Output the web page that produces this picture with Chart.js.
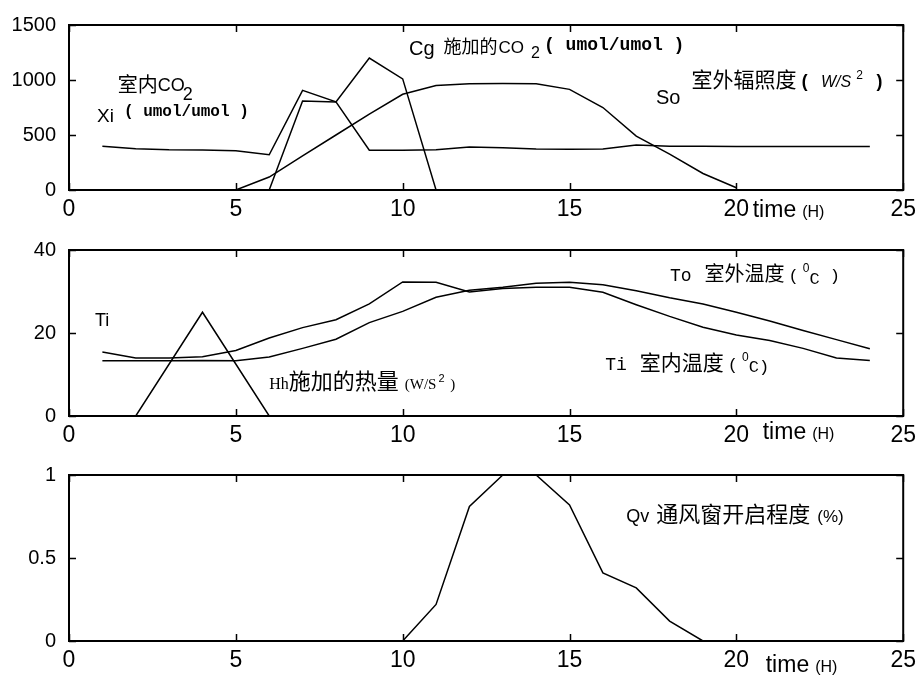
<!DOCTYPE html>
<html>
<head>
<meta charset="utf-8">
<script src="https://cdn.jsdelivr.net/npm/chart.js@4.4.0/dist/chart.umd.min.js"></script>
<style>
  html, body { margin: 0; padding: 0; background: #fff; }
  #wrap { position: relative; width: 922px; height: 683px; }
  .panel { position: absolute; left: 0; width: 922px; }
  canvas { display: block; }
</style>
</head>
<body>
<div id="wrap">
  <div class="panel" style="top:0;height:225px"><canvas id="c1" width="922" height="225"></canvas></div>
  <div class="panel" style="top:225px;height:225px"><canvas id="c2" width="922" height="225"></canvas></div>
  <div class="panel" style="top:450px;height:233px"><canvas id="c3" width="922" height="233"></canvas></div>
</div>
<script>
/* ---------- data (time in hours) ---------- */
const hours = [1, 2, 3, 4, 5, 6, 7, 8, 9, 10, 11, 12, 13, 14, 15, 16, 17, 18, 19, 20, 21, 22, 23, 24];

// top panel: CO2 and radiation
const xiIndoorCO2 = [398, 375, 366, 364, 356, 320, 906, 802, 362, 362, 365, 390, 385, 372, 370, 372, 410, 398, 398, 396, 396, 395, 395, 395];
const cgHours = [6, 7, 8, 9, 10, 11];
const cgAppliedCO2 = [0, 810, 800, 1200, 1010, 0];
const soHours = [5, 6, 7, 8, 9, 10, 11, 12, 13, 14, 15, 16, 17, 18, 19, 20];
const soRadiation = [0, 118, 310, 500, 690, 870, 950, 965, 968, 965, 915, 750, 490, 327, 150, 20];

// middle panel: temperatures and heating
const tiIndoorTemp = [15.4, 14.0, 14.0, 14.3, 15.8, 18.8, 21.3, 23.2, 27.0, 32.3, 32.2, 29.9, 30.7, 31.0, 31.0, 29.8, 26.8, 24.0, 21.4, 19.5, 18.2, 16.3, 14.0, 13.4];
const toOutdoorTemp = [13.3, 13.3, 13.3, 13.4, 13.3, 14.2, 16.3, 18.5, 22.5, 25.2, 28.6, 30.3, 31.0, 32.0, 32.2, 31.6, 30.2, 28.5, 27.0, 25.0, 22.9, 20.6, 18.4, 16.2];
const hhHours = [2, 4, 6];
const hhHeat = [0, 25, 0];

// bottom panel: vent opening
const qvHours = [10, 11, 12, 13, 14, 15, 16, 17, 18, 19];
const qvVent = [0, 0.22, 0.81, 1.0, 1.0, 0.82, 0.41, 0.32, 0.12, 0];

const xTicks = [0, 5, 10, 15, 20, 25];

/* ---------- fonts ---------- */
const SANS = "'Liberation Sans', Arial, sans-serif";
const CJK = "'Noto Sans CJK SC', sans-serif";
const MONO = "'Liberation Mono', monospace";
const SERIF = "'Liberation Serif', serif";

/* ---------- text notes, anchored in data coords (left / baseline) ---------- */
const notes = {
    c1: [
        { x: 10.19, y: 1230, parts: [
            { t: 'Cg', font: `20px ${SANS}` },
            { t: '施加的', font: `18px ${CJK}`, dx: 9, dy: -2 },
            { t: 'CO', font: `17px ${SANS}`, dx: 1, dy: -2 },
            { t: '2', font: `16px ${SANS}`, dx: 7, dy: 3 },
            { t: '( umol/umol )', font: `bold 18px ${MONO}`, dx: 4, dy: -5 }
        ] },
        { x: 1.46, y: 891, parts: [
            { t: '室内', font: `20px ${CJK}` },
            { t: 'CO', font: `18px ${SANS}`, dy: -1 },
            { t: '2', font: `18px ${SANS}`, dx: -2, dy: 8 }
        ] },
        { x: 0.84, y: 615, parts: [
            { t: 'Xi', font: `19px ${SANS}` },
            { t: '( umol/umol )', font: `bold 16px ${MONO}`, dx: 10, dy: -6 }
        ] },
        { x: 17.59, y: 784, parts: [
            { t: 'So', font: `20px ${SANS}` },
            { t: '室外辐照度', font: `21px ${CJK}`, dx: 11, dy: -17 },
            { t: '( ', font: `bold 18px ${MONO}`, dx: 3, dy: -17 },
            { t: 'W/S', font: `italic 16px ${SANS}`, dy: -17 },
            { t: '2', font: `12px ${SANS}`, dx: 5, dy: -25 },
            { t: ' )', font: `bold 18px ${MONO}`, dy: -17 }
        ] },
        { x: 20.49, y: -241, parts: [
            { t: 'time', font: `23px ${SANS}` },
            { t: '(H)', font: `16px ${SANS}`, dx: 6 }
        ] }
    ],
    c2: [
        { x: 0.78, y: 21.75, parts: [{ t: 'Ti', font: `18px ${SANS}` }] },
        { x: 6.0, y: 6.55, parts: [
            { t: 'Hh', font: `16px ${SERIF}` },
            { t: '施加的热量', font: `22px ${CJK}` },
            { t: '(W/S', font: `15px ${SERIF}`, dx: 6 },
            { t: '2', font: `11px ${SANS}`, dx: 2, dy: -7 },
            { t: ' )', font: `15px ${SERIF}`, dx: 2 }
        ] },
        { x: 18.01, y: 32.5, parts: [
            { t: 'To', font: `18px ${MONO}` },
            { t: '室外温度', font: `20px ${CJK}`, dx: 13 },
            { t: '(', font: `17px ${MONO}`, dx: 4 },
            { t: '0', font: `12px ${SANS}`, dx: 4, dy: -9 },
            { t: 'C', font: `17px ${MONO}`, dy: 3 },
            { t: ' )', font: `17px ${MONO}` }
        ] },
        { x: 16.07, y: 11.0, parts: [
            { t: 'Ti', font: `18px ${MONO}` },
            { t: '室内温度', font: `21px ${CJK}`, dx: 13 },
            { t: '(', font: `17px ${MONO}`, dx: 4 },
            { t: '0', font: `12px ${SANS}`, dx: 4, dy: -9 },
            { t: 'C)', font: `17px ${MONO}`, dy: 2 }
        ] },
        { x: 20.79, y: -5.6, parts: [
            { t: 'time', font: `23px ${SANS}` },
            { t: '(H)', font: `16px ${SANS}`, dx: 6 }
        ] }
    ],
    c3: [
        { x: 16.7, y: 0.718, parts: [
            { t: 'Qv', font: `18px ${SANS}` },
            { t: '通风窗开启程度', font: `22px ${CJK}`, dx: 7 },
            { t: '(%)', font: `17px ${SANS}`, dx: 7 }
        ] },
        { x: 20.88, y: -0.188, parts: [
            { t: 'time', font: `23px ${SANS}` },
            { t: '(H)', font: `16px ${SANS}`, dx: 6 }
        ] }
    ]
};

/* ---------- plugins ---------- */
// box round the plot area with inward ticks on all four sides
const framePlugin = {
    id: 'frame',
    afterDatasetsDraw(chart) {
        const { ctx, chartArea: a, scales: { x, y } } = chart;
        const len = 7;
        ctx.save();
        ctx.strokeStyle = '#000';
        ctx.lineWidth = 1.5;
        ctx.beginPath();
        x.ticks.forEach(t => {
            const px = Math.round(x.getPixelForValue(t.value)) + 0.5;
            ctx.moveTo(px, a.bottom); ctx.lineTo(px, a.bottom - len);
            ctx.moveTo(px, a.top); ctx.lineTo(px, a.top + len);
        });
        y.ticks.forEach(t => {
            const py = Math.round(y.getPixelForValue(t.value)) + 0.5;
            ctx.moveTo(a.left, py); ctx.lineTo(a.left + len, py);
            ctx.moveTo(a.right, py); ctx.lineTo(a.right - len, py);
        });
        ctx.stroke();
        ctx.lineWidth = 2;
        ctx.strokeRect(a.left, a.top, a.right - a.left, a.bottom - a.top);
        ctx.restore();
    }
};

const notesPlugin = {
    id: 'notes',
    afterDraw(chart) {
        const items = notes[chart.canvas.id] || [];
        const { ctx, scales: { x, y } } = chart;
        ctx.save();
        ctx.fillStyle = '#000';
        ctx.textBaseline = 'alphabetic';
        ctx.textAlign = 'left';
        items.forEach(item => {
            let px = x.getPixelForValue(item.x);
            const py = y.getPixelForValue(item.y);
            item.parts.forEach(p => {
                ctx.font = p.font;
                px += p.dx || 0;
                ctx.fillText(p.t, px, py + (p.dy || 0));
                px += ctx.measureText(p.t).width;
            });
        });
        ctx.restore();
    }
};

/* ---------- helpers ---------- */
const pts = (xs, ys) => xs.map((x, i) => ({ x, y: ys[i] }));

const lineSet = (data) => ({
    data,
    borderColor: '#000',
    borderWidth: 1.5,
    pointRadius: 0,
    tension: 0,
    fill: false
});

function makePanel(id, datasets, yMin, yMax, yStep, padTop, xHeight) {
    return new Chart(document.getElementById(id), {
        type: 'line',
        data: { datasets },
        options: {
            responsive: false,
            animation: false,
            events: [],
            layout: { padding: { top: padTop, right: 16, left: 0, bottom: 0 } },
            plugins: { legend: { display: false }, tooltip: { enabled: false } },
            scales: {
                x: {
                    type: 'linear',
                    min: 0,
                    max: 25,
                    afterBuildTicks: s => { s.ticks = xTicks.map(v => ({ value: v })); },
                    afterFit: s => { s.height = xHeight; },
                    grid: { display: false, drawTicks: false },
                    border: { display: false },
                    ticks: {
                        color: '#000',
                        padding: 6,
                        maxRotation: 0,
                        font: { family: SANS, size: 23 },
                        callback: v => String(v)
                    }
                },
                y: {
                    min: yMin,
                    max: yMax,
                    afterFit: s => { s.width = 69; },
                    grid: { display: false, drawTicks: false },
                    border: { display: false },
                    ticks: {
                        color: '#000',
                        padding: 13,
                        stepSize: yStep,
                        font: { family: SANS, size: 20 },
                        callback: v => String(v)
                    }
                }
            }
        },
        plugins: [framePlugin, notesPlugin]
    });
}

makePanel('c1', [
    lineSet(pts(hours, xiIndoorCO2)),
    lineSet(pts(cgHours, cgAppliedCO2)),
    lineSet(pts(soHours, soRadiation))
], 0, 1500, 500, 22, 35);

makePanel('c2', [
    lineSet(pts(hours, tiIndoorTemp)),
    lineSet(pts(hours, toOutdoorTemp)),
    lineSet(pts(hhHours, hhHeat))
], 0, 40, 20, 20, 34);

makePanel('c3', [
    lineSet(pts(qvHours, qvVent))
], 0, 1, 0.5, 21, 42);
</script>
</body>
</html>
